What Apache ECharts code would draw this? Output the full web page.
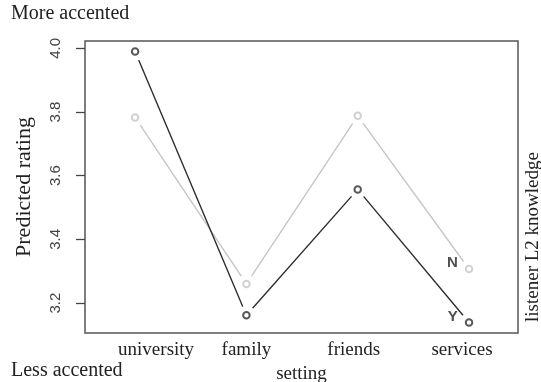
<!DOCTYPE html>
<html>
<head>
<meta charset="utf-8">
<script src="https://cdn.jsdelivr.net/npm/echarts@6/dist/echarts.min.js"></script>
<style>
  html, body { margin: 0; padding: 0; background: #fff; }
  #chart { width: 541px; height: 382px; }
</style>
</head>
<body>
<div id="chart"></div>
<script>
// Interaction plot: predicted rating by setting, one trace per listener L2 knowledge level
const settings = ['university', 'family', 'friends', 'services'];
const yTicks = [3.2, 3.4, 3.6, 3.8, 4.0];
const knowledgeN = [3.783, 3.260, 3.788, 3.307];
const knowledgeY = [3.990, 3.162, 3.557, 3.139];
const traceLabels = ['N', 'Y'];

const SERIF = '"Liberation Serif", "Times New Roman", serif';
const SANS = '"Liberation Sans", Arial, sans-serif';

const toPoints = vals => vals.map((v, i) => [i, v]);

function traceSeries(name, vals, color, label, labelOffset) {
  const pts = toPoints(vals);
  const circles = pts.map((p, i) => {
    const item = { value: p };
    if (i === pts.length - 1) {
      item.label = {
        show: true, formatter: label, position: 'left', distance: 7,
        offset: [0, labelOffset], color: '#222', fontFamily: SANS,
        fontSize: 15, fontWeight: 'bold'
      };
    }
    return item;
  });
  return [
    { name: name, type: 'line', data: pts, showSymbol: false, silent: true,
      lineStyle: { color: color, width: 1.4 }, z: 2 },
    // white disk that opens a gap in the line around each point
    { type: 'scatter', data: pts, symbol: 'circle', symbolSize: 19, silent: true,
      itemStyle: { color: '#ffffff', opacity: 1 }, z: 5 },
    { type: 'scatter', data: circles, symbol: 'emptyCircle', symbolSize: 6.5, silent: true,
      itemStyle: { color: color, borderColor: color, borderWidth: 1.4 }, z: 6 }
  ];
}

// label nudges along the bottom axis (left padding moves right, right padding moves left)
const labelRich = {
  u: { padding: [0, 0, 0, 42] },
  f: { padding: [0, 8, 0, 0] },
  s: { padding: [0, 14, 0, 0] }
};
const richKeys = ['u', null, 'f', 's'];

const chart = echarts.init(document.getElementById('chart'), null, { renderer: 'canvas' });
chart.setOption({
  animation: false,
  backgroundColor: '#fff',
  grid: {
    left: 85, top: 41, right: 23, bottom: 49,
    outerBoundsMode: 'none', containLabel: false,
    show: true, borderColor: '#555', borderWidth: 1.5, backgroundColor: 'transparent'
  },
  xAxis: {
    type: 'value', min: -0.45, max: 3.44,
    splitLine: { show: false },
    axisLine: { show: false, onZero: false },
    axisTick: { show: false },
    axisLabel: {
      customValues: [0, 1, 2, 3],
      margin: 8,
      color: '#222', fontFamily: SERIF, fontSize: 19,
      formatter: v => {
        const i = Math.round(v);
        const k = richKeys[i];
        return k ? '{' + k + '|' + settings[i] + '}' : settings[i];
      },
      rich: Object.fromEntries(Object.entries(labelRich).map(([k, s]) =>
        [k, Object.assign({ fontFamily: SERIF, fontSize: 19, color: '#222' }, s)]))
    },
    name: 'setting', nameLocation: 'middle', nameGap: 26,
    nameTextStyle: { color: '#222', fontFamily: SERIF, fontSize: 19 }
  },
  yAxis: {
    type: 'value', min: 3.106, max: 4.023,
    splitLine: { show: false },
    axisLine: { show: false, onZero: false },
    axisTick: { show: true, customValues: yTicks, length: 9, inside: false,
      lineStyle: { color: '#444', width: 1.3 } },
    axisLabel: {
      customValues: yTicks, rotate: 90, margin: 22,
      color: '#444', fontFamily: SANS, fontSize: 15,
      formatter: v => v.toFixed(1)
    },
    name: 'Predicted rating', nameLocation: 'middle', nameGap: 50,
    nameTextStyle: { color: '#222', fontFamily: SERIF, fontSize: 22 }
  },
  series: [
    ...traceSeries('N', knowledgeN, '#c6c6c6', traceLabels[0], -6),
    ...traceSeries('Y', knowledgeY, '#2e2e2e', traceLabels[1], -6)
  ],
  graphic: [
    { type: 'text', left: 11, top: 4,
      style: { text: 'More accented', font: '20px ' + SERIF, fill: '#222' } },
    { type: 'text', left: 11, top: 361,
      style: { text: 'Less accented', font: '20px ' + SERIF, fill: '#222' } },
    { type: 'text', x: 533, y: 237, rotation: Math.PI / 2,
      style: { text: 'listener L2 knowledge', font: '19px ' + SERIF, fill: '#222',
        align: 'center', verticalAlign: 'middle' } }
  ]
});
</script>
</body>
</html>
